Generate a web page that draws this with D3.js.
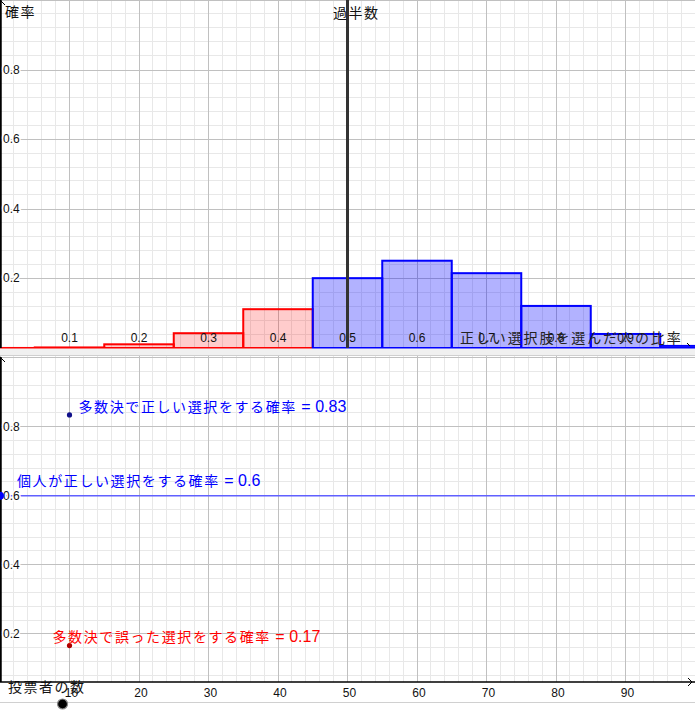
<!DOCTYPE html>
<html>
<head>
<meta charset="utf-8">
<script src="https://cdn.jsdelivr.net/npm/d3@7"></script>
<style>
html,body{margin:0;padding:0;background:#fff;}
svg{display:block;}
</style>
</head>
<body>
<svg id="chart" width="695" height="710"></svg>
<script>
// ---- data ----
const successRatio = [0.0, 0.1, 0.2, 0.3, 0.4, 0.5, 0.6, 0.7, 0.8, 0.9, 1.0];
const probability  = [0.0001, 0.0016, 0.0106, 0.0425, 0.1115, 0.2007, 0.2508, 0.2150, 0.1209, 0.0403, 0.0060];
const majorityLine = 0.5;
const topXTicks = [0.1, 0.2, 0.3, 0.4, 0.5, 0.6, 0.7, 0.8, 0.9];
const yTicks = [0.2, 0.4, 0.6, 0.8];
const bottomXTicks = [10, 20, 30, 40, 50, 60, 70, 80, 90];
const voterCount = [10];
const pMajorityCorrect = [0.8338];
const pIndividual = [0.6];
const pMajorityWrong = [0.1662];
const sliderPoint = [9];
const labels = {
  yTop: "確率",
  majority: "過半数",
  xTop: "正しい選択肢を選んだ人の比率",
  xBottom: "投票者の数",
  correct: "多数決で正しい選択をする確率",
  individual: "個人が正しい選択をする確率",
  wrong: "多数決で誤った選択をする確率"
};

const svg = d3.select("#chart");
const W = 695;
const JP = "'Noto Sans CJK JP', sans-serif";
const NUM = "'Liberation Sans', Arial, sans-serif";

// ---- scales ----
const xTop = d3.scaleLinear().domain([0, 1]).range([0, W]);
const yTop = d3.scaleLinear().domain([0, 1]).range([348, 0]);
const xBot = d3.scaleLinear().domain([0, 100]).range([0, W]);
const yBot = d3.scaleLinear().domain([0, 1]).range([703, 357.5]);
const isMajor = (v, s) => Math.abs(v / s - Math.round(v / s)) < 1e-6;

// ================= TOP PANEL =================
const gTop = svg.append("g");
gTop.append("rect").attr("x", 0).attr("y", 0).attr("width", W).attr("height", 348).attr("fill", "#fff");
gTop.selectAll(null).data(d3.range(0, 1.0001, 0.02).filter(d => !isMajor(d, 0.1))).enter().append("line")
  .attr("x1", d => xTop(d)).attr("x2", d => xTop(d)).attr("y1", 0).attr("y2", 348)
  .attr("stroke", "#e8e8e8").attr("shape-rendering", "crispEdges");
gTop.selectAll(null).data(d3.range(0, 1.0001, 0.04).filter(d => !isMajor(d, 0.2))).enter().append("line")
  .attr("x1", 0).attr("x2", W).attr("y1", d => yTop(d)).attr("y2", d => yTop(d))
  .attr("stroke", "#e8e8e8").attr("shape-rendering", "crispEdges");
gTop.selectAll(null).data(d3.range(0, 1.0001, 0.1)).enter().append("line")
  .attr("x1", d => xTop(d)).attr("x2", d => xTop(d)).attr("y1", 0).attr("y2", 348)
  .attr("stroke", "#c0c0c0").attr("shape-rendering", "crispEdges");
gTop.selectAll(null).data(d3.range(0, 1.0001, 0.2)).enter().append("line")
  .attr("x1", 0).attr("x2", W).attr("y1", d => yTop(d) + 0.5).attr("y2", d => yTop(d) + 0.5)
  .attr("stroke", "#c0c0c0").attr("shape-rendering", "crispEdges");

// x axis (top)
gTop.append("line").attr("x1", 0).attr("x2", W).attr("y1", yTop(0)).attr("y2", yTop(0))
  .attr("stroke", "#000").attr("stroke-width", 1.5);

// bars
const bars = successRatio.map((r, i) => ({ r, p: probability[i] }));
gTop.selectAll("rect.bar").data(bars).enter().append("rect")
  .attr("class", "bar")
  .attr("x", d => xTop(d.r - 0.05))
  .attr("width", d => xTop(d.r + 0.05) - xTop(d.r - 0.05))
  .attr("y", d => yTop(d.p))
  .attr("height", d => yTop(0) - yTop(d.p))
  .attr("fill", d => d.r < majorityLine - 1e-9 ? "rgba(255,0,0,0.2)" : "rgba(0,0,255,0.3)")
  .attr("stroke", d => d.r < majorityLine - 1e-9 ? "#ff0000" : "#0000ff")
  .attr("stroke-width", 2);

// y axis (top)
gTop.append("line").attr("x1", 0.75).attr("x2", 0.75).attr("y1", 0).attr("y2", 348)
  .attr("stroke", "#000").attr("stroke-width", 2);
gTop.append("path").attr("d", "M1,1 L5,5").attr("stroke", "#000").attr("fill", "none");

// tick labels top
gTop.selectAll(null).data(topXTicks).enter().append("text")
  .attr("x", d => xTop(d)).attr("y", 338)
  .attr("text-anchor", "middle").attr("dominant-baseline", "central")
  .attr("font-family", NUM).attr("font-size", 12).attr("fill", "#111")
  .text(d => d3.format(".1f")(d));
gTop.selectAll(null).data(yTicks).enter().append("text")
  .attr("x", 3).attr("y", d => yTop(d))
  .attr("dominant-baseline", "central")
  .attr("font-family", NUM).attr("font-size", 12).attr("fill", "#111")
  .attr("stroke", "#fff").attr("stroke-width", 3).attr("paint-order", "stroke")
  .text(d => d3.format(".1f")(d));

// majority vertical line
gTop.append("line").attr("x1", xTop(majorityLine)).attr("x2", xTop(majorityLine))
  .attr("y1", 0).attr("y2", 348).attr("stroke", "#333").attr("stroke-width", 3);

// labels top
gTop.append("text").attr("x", 5).attr("y", 11).attr("dominant-baseline", "central")
  .attr("font-family", JP).attr("font-size", 14).attr("letter-spacing", "1.5px")
  .attr("fill", "#111").text(labels.yTop);
gTop.append("text").attr("x", 333).attr("y", 12).attr("dominant-baseline", "central")
  .attr("font-family", JP).attr("font-size", 14).attr("letter-spacing", "1.5px")
  .attr("fill", "#111").text(labels.majority);
gTop.append("text").attr("x", 460).attr("y", 337).attr("dominant-baseline", "central")
  .attr("font-family", JP).attr("font-size", 14).attr("letter-spacing", "1.9px")
  .attr("fill", "#222").text(labels.xTop);
gTop.append("path").attr("d", "M687,343 L690,346").attr("stroke", "#000").attr("fill", "none");

// ================= SEPARATOR =================
svg.append("rect").attr("x", 0).attr("y", 348.5).attr("width", W).attr("height", 7).attr("fill", "#f0f0f0");
svg.append("line").attr("x1", 0).attr("x2", W).attr("y1", 355.5).attr("y2", 355.5).attr("stroke", "#cfcfcf");

// ================= BOTTOM PANEL =================
const gBot = svg.append("g");
const axisY = 682;
gBot.append("defs").append("clipPath").attr("id", "botClip")
  .append("rect").attr("x", 0).attr("y", 356).attr("width", W).attr("height", axisY - 356);
const gBotGrid = gBot.append("g").attr("clip-path", "url(#botClip)");
gBotGrid.selectAll(null).data(d3.range(0, 100.001, 2).filter(d => !isMajor(d, 10))).enter().append("line")
  .attr("x1", d => xBot(d)).attr("x2", d => xBot(d)).attr("y1", 356).attr("y2", axisY)
  .attr("stroke", "#e8e8e8").attr("shape-rendering", "crispEdges");
gBotGrid.selectAll(null).data(d3.range(0, 1.0001, 0.04).filter(d => !isMajor(d, 0.2))).enter().append("line")
  .attr("x1", 0).attr("x2", W).attr("y1", d => yBot(d)).attr("y2", d => yBot(d))
  .attr("stroke", "#e8e8e8").attr("shape-rendering", "crispEdges");
gBotGrid.selectAll(null).data(d3.range(0, 100.001, 10)).enter().append("line")
  .attr("x1", d => xBot(d)).attr("x2", d => xBot(d)).attr("y1", 356).attr("y2", axisY)
  .attr("stroke", "#c0c0c0").attr("shape-rendering", "crispEdges");
gBotGrid.selectAll(null).data(d3.range(0, 1.0001, 0.2)).enter().append("line")
  .attr("x1", 0).attr("x2", W).attr("y1", d => yBot(d)).attr("y2", d => yBot(d))
  .attr("stroke", "#c0c0c0").attr("shape-rendering", "crispEdges");

// individual probability line
gBot.append("line").attr("x1", 0).attr("x2", W)
  .attr("y1", yBot(pIndividual[0])).attr("y2", yBot(pIndividual[0]))
  .attr("stroke", "#6060ff").attr("stroke-width", 1.4);

// axes bottom
gBot.append("line").attr("x1", 0).attr("x2", W).attr("y1", axisY).attr("y2", axisY)
  .attr("stroke", "#000").attr("stroke-width", 1.5);
gBot.append("path").attr("d", `M688,${axisY - 4} L692,${axisY} L688,${axisY + 4}`)
  .attr("stroke", "#000").attr("fill", "none");
gBot.append("line").attr("x1", 0.75).attr("x2", 0.75).attr("y1", 357).attr("y2", axisY)
  .attr("stroke", "#000").attr("stroke-width", 2);
gBot.append("path").attr("d", "M1,358 L5,362").attr("stroke", "#000").attr("fill", "none");

// bottom frame line
svg.append("line").attr("x1", 0).attr("x2", W).attr("y1", 702.5).attr("y2", 702.5).attr("stroke", "#d0d0d0");

// tick labels bottom
gBot.selectAll(null).data(yTicks).enter().append("text")
  .attr("x", 3).attr("y", d => yBot(d))
  .attr("dominant-baseline", "central")
  .attr("font-family", NUM).attr("font-size", 12).attr("fill", "#111")
  .attr("stroke", "#fff").attr("stroke-width", 3).attr("paint-order", "stroke")
  .text(d => d3.format(".1f")(d));
gBot.selectAll(null).data(bottomXTicks).enter().append("text")
  .attr("x", d => xBot(d) + 2).attr("y", 693)
  .attr("text-anchor", "middle").attr("dominant-baseline", "central")
  .attr("font-family", NUM).attr("font-size", 12).attr("fill", "#111")
  .text(d => d);

// points
gBot.append("circle").attr("cx", xBot(0)).attr("cy", yBot(pIndividual[0])).attr("r", 4)
  .attr("fill", "#0000ff");
gBot.append("circle").attr("cx", xBot(voterCount[0])).attr("cy", yBot(pMajorityCorrect[0])).attr("r", 2.6)
  .attr("fill", "#10108a");
gBot.append("circle").attr("cx", xBot(voterCount[0])).attr("cy", yBot(pMajorityWrong[0])).attr("r", 2.6)
  .attr("fill", "#b00000");

// point labels
function pointLabel(x, y, jp, val, color) {
  const t = gBot.append("text").attr("x", x).attr("y", y).attr("dominant-baseline", "central").attr("fill", color);
  t.append("tspan").attr("font-family", JP).attr("font-size", 14).attr("letter-spacing", "1.6px").text(jp);
  t.append("tspan").attr("font-family", NUM).attr("font-size", 16).text(" = " + val);
}
pointLabel(xBot(voterCount[0]) + 9, yBot(pMajorityCorrect[0]) - 9, labels.correct, d3.format(".2f")(pMajorityCorrect[0]), "#0000ff");
pointLabel(17, yBot(pIndividual[0]) - 16, labels.individual, d3.format(".1f")(pIndividual[0]), "#0000ff");
pointLabel(xBot(voterCount[0]) - 17, yBot(pMajorityWrong[0]) - 10, labels.wrong, d3.format(".2f")(pMajorityWrong[0]), "#ff0000");

// axis title bottom
gBot.append("text").attr("x", 8).attr("y", 686).attr("dominant-baseline", "central")
  .attr("font-family", JP).attr("font-size", 14).attr("letter-spacing", "1.5px")
  .attr("fill", "#111").text(labels.xBottom);

// slider point
svg.append("circle").attr("cx", xBot(sliderPoint[0])).attr("cy", 704).attr("r", 5)
  .attr("fill", "#000").attr("stroke", "#888").attr("stroke-width", 1.2);
</script>
</body>
</html>
